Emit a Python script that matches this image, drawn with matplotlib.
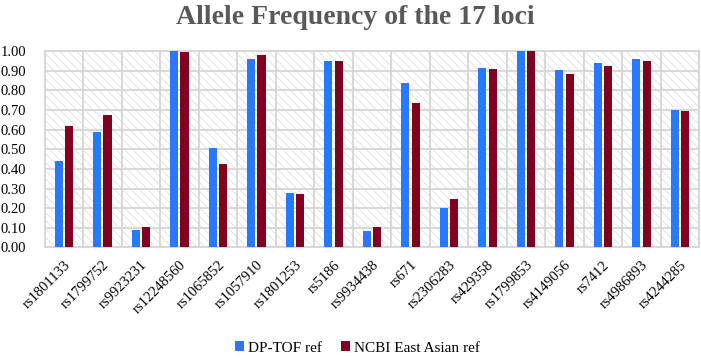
import matplotlib
matplotlib.use("Agg")
import matplotlib.pyplot as plt
from matplotlib.patches import Rectangle
import numpy as np

loci = ["rs1801133", "rs1799752", "rs9923231", "rs12248560", "rs1065852",
        "rs1057910", "rs1801253", "rs5186", "rs9934438", "rs671", "rs2306283",
        "rs429358", "rs1799853", "rs4149056", "rs7412", "rs4986893", "rs4244285"]
dp_tof = [0.44, 0.588, 0.088, 1.00, 0.505, 0.961, 0.277, 0.949, 0.083, 0.840,
          0.200, 0.912, 1.00, 0.905, 0.941, 0.958, 0.701]
ncbi_east_asian = [0.617, 0.675, 0.104, 0.998, 0.425, 0.980, 0.272, 0.949, 0.105,
                   0.738, 0.245, 0.907, 1.00, 0.884, 0.922, 0.952, 0.696]
yticks = np.arange(0, 1.01, 0.1)

plt.rcParams["font.family"] = ["Liberation Serif", "DejaVu Serif"]
plt.rcParams["hatch.linewidth"] = 0.6

grid_col = "#d6d6d6"

fig = plt.figure(figsize=(7.01, 3.58), dpi=100)
ax = fig.add_axes([0.0635, 0.309, 0.934, 0.548])

# hatched background
ax.add_patch(Rectangle((0, 0), 1, 1, transform=ax.transAxes, facecolor="white",
                       edgecolor="#dedede", lw=0, hatch="\\\\\\\\", zorder=0))

x = np.arange(len(loci))
w = 0.21
ax.bar(x - 0.135, dp_tof, width=w, color="#2979ff", zorder=3, label="DP-TOF ref")
ax.bar(x + 0.135, ncbi_east_asian, width=w, color="#7f0020", zorder=3,
       label="NCBI East Asian ref")

ax.set_xlim(-0.5, len(loci) - 0.5)
ax.set_ylim(0, 1.0)
ax.set_yticks(yticks)
ax.set_yticklabels([f"{v:.2f}" for v in yticks], fontsize=10.5)
ax.set_xticks(x)
ax.set_xticklabels(loci, rotation=45, ha="right", rotation_mode="anchor", fontsize=10.5)
ax.set_xticks(np.arange(len(loci) + 1) - 0.5, minor=True)
ax.tick_params(axis="both", which="both", length=0)
ax.tick_params(axis="y", pad=13)
ax.tick_params(axis="x", pad=8)

ax.set_axisbelow(True)
ax.grid(axis="y", which="major", color=grid_col, lw=1.3, zorder=1)
ax.grid(axis="x", which="minor", color=grid_col, lw=1.3, zorder=1)
for s in ax.spines.values():
    s.set_color(grid_col)
    s.set_linewidth(1.3)

fig.text(0.507, 0.952, "Allele Frequency of the 17 loci", ha="center", va="center",
         fontsize=20, fontweight="bold", color="#595959")

fig.legend(loc="center", bbox_to_anchor=(0.51, 0.028), ncol=2, frameon=False,
           fontsize=11, handlelength=0.6, handleheight=0.6, handletextpad=0.3,
           columnspacing=1.2)

fig.savefig("out.png", dpi=100)
plt.close(fig)
